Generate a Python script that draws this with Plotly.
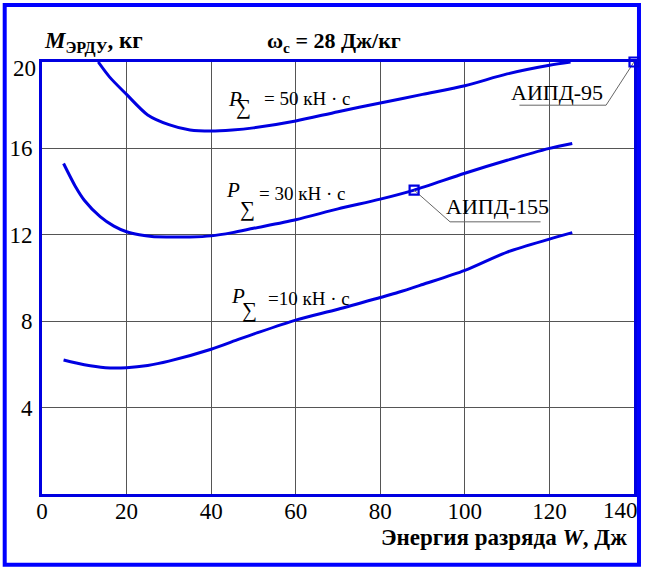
import plotly.graph_objects as go

# ---- data ----
x_p50 = [13.3, 16, 20, 25, 30, 35, 40, 45, 50, 60, 70, 80, 90, 100, 110, 120, 125]
y_p50 = [20.0, 19.3, 18.5, 17.55, 17.1, 16.85, 16.8, 16.85, 16.95, 17.27, 17.7, 18.1, 18.5, 18.9, 19.45, 19.85, 20.0]

x_p30 = [5.1, 8, 10, 13.75, 17, 20, 23, 26, 30, 35, 40, 45, 50, 60, 70, 80, 88, 100, 110, 120, 125.4]
y_p30 = [15.3, 14.2, 13.6, 12.84, 12.4, 12.14, 12.0, 11.92, 11.9, 11.9, 11.95, 12.1, 12.3, 12.7, 13.2, 13.65, 14.07, 14.85, 15.45, 16.0, 16.23]

x_p10 = [5.1, 10, 15, 20, 25, 30, 40, 46.6, 50, 60, 70, 80, 84.3, 90, 100, 110, 120, 125.4]
y_p10 = [6.2, 5.98, 5.85, 5.85, 5.95, 6.15, 6.7, 7.17, 7.4, 8.05, 8.55, 9.1, 9.34, 9.7, 10.35, 11.2, 11.8, 12.1]

points_x = [140, 88]
points_y = [20, 14.07]
point_names = ["АИПД-95", "АИПД-155"]
# leader lines: marker -> elbow -> end of underline
leader95_x = [140, 133.4, 112.9]
leader95_y = [20, 18.0, 18.0]
leader155_x = [88, 96.5, 117.9]
leader155_y = [14.07, 12.6, 12.6]
label_pos = [(121.9, 18.6), (107.8, 13.3)]

curve_labels = ["= 50 кН · с", "= 30 кН · с", "=10 кН · с"]
# (P x, P y, sigma x, sigma y, text left x, text y)
curve_label_pos = [(45.6, 18.29, 47.7, 17.92, 52.1, 18.33),
                   (45.25, 14.07, 48.5, 13.19, 50.9, 13.89),
                   (46.3, 9.19, 49.0, 8.54, 53.0, 9.07)]

x_ticks = [0, 20, 40, 60, 80, 100, 120, 140]
x_ticktext = ["0", "20", "40", "60", "80", "100", "120", ""]
y_ticks = [4, 8, 12, 16, 20]
y_ticktext = ["4", "8", "12", "16", ""]

BLUE = "rgb(0,0,225)"
FONT = "Liberation Serif, Times New Roman, serif"

fig = go.Figure()
for xs, ys in [(x_p50, y_p50), (x_p30, y_p30), (x_p10, y_p10)]:
    fig.add_trace(go.Scatter(x=xs, y=ys, mode="lines", line=dict(color=BLUE, width=3, shape="spline", smoothing=0.8),
                             hoverinfo="skip", showlegend=False, cliponaxis=False))

for lx, ly in [(leader95_x, leader95_y), (leader155_x, leader155_y)]:
    fig.add_trace(go.Scatter(x=lx, y=ly, mode="lines", line=dict(color="#666", width=1),
                             showlegend=False, hoverinfo="skip", cliponaxis=False))

fig.add_trace(go.Scatter(x=points_x, y=points_y, mode="markers",
                         marker=dict(symbol="square-open", size=9, color=BLUE, line=dict(width=2.2, color=BLUE)),
                         showlegend=False, cliponaxis=False))

annotations = []
for name, (tx, ty) in zip(point_names, label_pos):
    annotations.append(dict(x=tx, y=ty, text=name, showarrow=False, xref="x", yref="y",
                            font=dict(family=FONT, size=22, color="black")))
for txt, (px_, py_, sx, sy, tx, ty) in zip(curve_labels, curve_label_pos):
    annotations.append(dict(x=px_, y=py_, text="<i>P</i>", showarrow=False, font=dict(family=FONT, size=21, color="black")))
    annotations.append(dict(x=sx, y=sy, text="∑", showarrow=False, font=dict(family=FONT, size=21, color="black")))
    annotations.append(dict(x=tx, y=ty, text=txt, showarrow=False, xanchor="left", font=dict(family=FONT, size=19, color="black")))

# edge tick labels drawn as annotations (placed as in the reference)
annotations.append(dict(xref="paper", yref="paper", x=0.9765, y=-0.039, xanchor="center", yanchor="middle",
                        text="140", showarrow=False, font=dict(family=FONT, size=23, color="black")))
annotations.append(dict(xref="paper", yref="paper", x=-0.0076, y=0.9838, xanchor="right", yanchor="middle",
                        text="20", showarrow=False, font=dict(family=FONT, size=23, color="black")))

annotations.append(dict(xref="paper", yref="paper", x=0.0, y=1.046, xanchor="left", yanchor="middle",
                        text="<b><i>M</i><sub>ЭРДУ</sub>, кг</b>", showarrow=False,
                        font=dict(family=FONT, size=23, color="black")))
annotations.append(dict(xref="paper", yref="paper", x=0.493, y=1.046, xanchor="center", yanchor="middle",
                        text="<b>ω<sub>с</sub> = 28 Дж/кг</b>", showarrow=False,
                        font=dict(family=FONT, size=22, color="black")))
annotations.append(dict(xref="paper", yref="paper", x=0.9916, y=-0.1, xanchor="right", yanchor="middle",
                        text="<b>Энергия разряда <i>W</i>, Дж</b>", showarrow=False,
                        font=dict(family=FONT, size=23, color="black")))

fig.update_layout(
    width=646, height=569,
    margin=dict(l=41, r=9, t=62, b=75),
    paper_bgcolor="white", plot_bgcolor="white",
    annotations=annotations,
    shapes=[dict(type="rect", xref="paper", yref="paper", x0=-0.063, x1=1.0084, y0=-0.164, y1=1.132,
                 line=dict(color="rgb(0,0,255)", width=4), layer="below")],
    xaxis=dict(range=[0, 140], tickvals=x_ticks, ticktext=x_ticktext, showgrid=True, gridcolor="#555", gridwidth=1,
               showline=True, linecolor=BLUE, linewidth=3, mirror=True, zeroline=False, ticks="",
               ticklabelstandoff=-6, tickfont=dict(family=FONT, size=23, color="black")),
    yaxis=dict(range=[0, 20], tickvals=y_ticks, ticktext=y_ticktext, showgrid=True, gridcolor="#555", gridwidth=1,
               showline=True, linecolor=BLUE, linewidth=3, mirror=True, zeroline=False, ticks="",
               ticklabelstandoff=2, tickfont=dict(family=FONT, size=23, color="black")),
)

fig.write_html("out.html")
